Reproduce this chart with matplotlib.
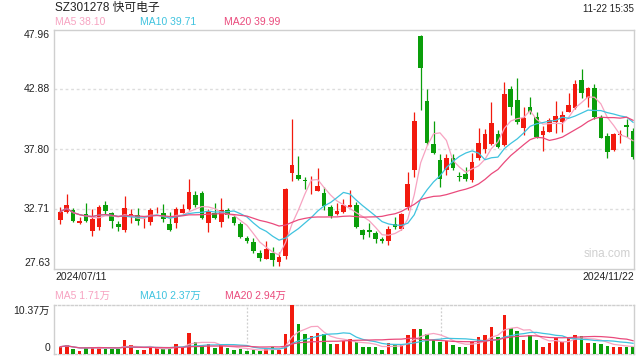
import matplotlib
matplotlib.use("Agg")
import matplotlib.pyplot as plt
import numpy as np
import pandas as pd

plt.rcParams["font.family"] = ["Liberation Sans", "Noto Sans CJK SC", "DejaVu Sans"]

# ---- data ----
title = "SZ301278 快可电子"
stamp = "11-22 15:35"
date_labels = ["2024/07/11", "2024/11/22"]
price_ticks = [27.63, 32.71, 37.80, 42.88, 47.96]
vol_top = 10.37  # 万
price_ma_text = ["MA5 38.10", "MA10 39.71", "MA20 39.99"]
vol_ma_text = ["MA5 1.71万", "MA10 2.37万", "MA20 2.94万"]

opens = [31.76, 32.46, 32.61, 31.48, 32.24, 30.85, 31.19, 33.03, 32.33, 31.42,
         30.91, 32.21, 32.16, 31.48, 31.61, 32.67, 32.33, 31.42, 31.48, 32.38,
         32.69, 33.89, 34.03, 31.53, 32.33, 31.61, 32.61, 32.04, 31.42, 30.25,
         29.90, 28.94, 28.45, 28.99, 28.20, 28.71, 35.78, 35.59, 35.16, 34.54,
         34.25, 34.08, 32.84, 32.24, 32.46, 32.89, 33.03, 30.91, 30.91, 30.62,
         30.14, 29.94, 31.39, 30.99, 32.89, 36.01, 47.40, 41.89, 38.18, 36.86,
         35.99, 37.05, 35.50, 35.67, 35.16, 37.05, 37.82, 38.20, 39.04, 38.12,
         42.87, 41.99, 39.60, 41.39, 40.49, 38.99, 39.27, 40.12, 40.12, 40.97,
         41.26, 43.67, 42.17, 43.02, 40.55, 38.91, 37.69, 38.99, 39.84, 39.31]
closes = [32.46, 33.03, 31.67, 31.67, 31.67, 31.82, 32.89, 32.52, 31.67, 31.19,
          32.75, 32.27, 31.67, 31.53, 32.61, 32.72, 31.82, 30.91, 32.67, 32.69,
          34.14, 33.03, 31.95, 32.52, 31.95, 32.61, 32.18, 31.48, 30.34, 29.94,
          29.08, 28.56, 29.26, 28.35, 28.63, 34.37, 36.43, 35.25, 35.08, 34.59,
          34.65, 32.97, 32.12, 32.52, 33.03, 33.03, 31.19, 30.48, 30.76, 30.14,
          29.94, 30.99, 31.19, 32.27, 34.82, 40.21, 44.65, 38.29, 37.46, 35.24,
          36.99, 36.20, 35.44, 35.22, 36.67, 38.27, 39.04, 39.99, 37.99, 42.46,
          41.39, 40.06, 40.45, 40.91, 38.81, 39.33, 40.27, 40.61, 40.69, 41.54,
          43.33, 42.54, 43.02, 40.55, 38.76, 37.58, 39.05, 39.05, 39.65, 37.15]
highs = [32.89, 33.97, 32.78, 32.04, 33.23, 32.67, 33.01, 33.40, 32.46, 31.70,
         33.80, 32.67, 32.75, 32.04, 32.75, 32.89, 33.12, 32.46, 32.84, 33.09,
         35.25, 34.23, 34.25, 32.67, 33.23, 33.60, 32.75, 32.18, 31.61, 30.42,
         30.25, 29.20, 29.97, 29.42, 29.05, 34.46, 40.31, 37.23, 35.44, 35.50,
         36.21, 34.59, 33.03, 33.23, 33.55, 34.31, 33.32, 30.99, 31.48, 30.85,
         30.34, 31.21, 32.04, 32.38, 35.87, 40.97, 47.49, 42.90, 40.21, 37.37,
         37.39, 37.37, 35.87, 36.24, 37.49, 39.60, 39.53, 41.81, 39.40, 43.51,
         43.15, 43.80, 41.35, 42.26, 40.97, 39.76, 40.44, 41.84, 41.03, 42.60,
         43.67, 44.61, 43.11, 43.31, 40.69, 39.12, 39.12, 39.38, 40.32, 39.59]
lows = [31.42, 32.38, 31.61, 31.42, 31.61, 30.40, 30.91, 32.27, 31.10, 30.80,
        30.76, 31.48, 31.31, 31.05, 31.31, 32.33, 31.61, 30.82, 31.05, 32.33,
        32.61, 32.89, 31.82, 30.76, 31.82, 31.14, 31.95, 31.33, 30.21, 29.77,
        28.94, 28.31, 28.40, 27.84, 27.84, 28.42, 35.10, 35.16, 34.37, 33.97,
        34.20, 32.61, 31.90, 32.18, 32.38, 32.84, 31.10, 30.11, 30.34, 29.80,
        29.80, 29.63, 30.99, 30.91, 32.61, 35.44, 41.11, 38.15, 37.35, 34.58,
        35.59, 35.97, 35.10, 35.10, 35.02, 36.90, 37.43, 38.12, 37.90, 38.01,
        40.70, 39.95, 38.97, 40.77, 38.75, 37.65, 39.25, 39.13, 39.20, 40.92,
        41.18, 42.11, 41.39, 40.36, 38.69, 37.07, 37.64, 38.27, 38.82, 36.95]
# volume in 万 (10k shares)
volumes = [1.54, 1.90, 1.06, 0.70, 1.27, 1.54, 1.54, 1.12, 1.12, 1.06,
           2.96, 1.90, 0.85, 0.85, 1.42, 1.21, 1.12, 1.12, 2.12, 1.42,
           4.51, 2.54, 1.69, 2.12, 1.27, 1.90, 1.27, 0.91, 1.12, 0.70,
           0.85, 0.63, 0.99, 1.54, 0.91, 4.23, 10.37, 6.35, 4.23, 3.81,
           4.51, 4.17, 2.12, 2.12, 2.81, 3.17, 2.48, 1.54, 1.54, 1.54,
           0.85, 2.39, 1.90, 1.90, 4.02, 5.29, 5.29, 4.17, 2.96, 2.60,
           2.75, 1.90, 1.54, 1.54, 2.75, 3.66, 4.02, 5.78, 3.66, 8.32,
           5.44, 4.93, 2.96, 4.02, 2.96, 1.54, 2.39, 3.32, 2.60, 3.32,
           4.02, 3.81, 2.39, 2.39, 2.12, 1.76, 1.54, 1.54, 1.54, 1.54]

# ---- styles ----
up_color = "#f21a0e"
down_color = "#0a9e0a"
ma_colors = ["#f7a3c1", "#3fc3df", "#ea4a7c"]
ma_windows = [5, 10, 20]
border = "#cfcfcf"
grid_c = "#dddddd"

df = pd.DataFrame({"open": opens, "high": highs, "low": lows, "close": closes, "vol": volumes})
x = np.arange(len(df))
up = df["close"] >= df["open"]
colors = np.where(up, up_color, down_color)

fig = plt.figure(figsize=(6.4, 3.6), dpi=100)
ax = fig.add_axes([54 / 640, 1 - 268.5 / 360, 580 / 640, 239 / 360])
axv = fig.add_axes([54 / 640, 1 - 354 / 360, 580 / 640, 49 / 360])

xlim = (-0.98, 89.15)

# ---- candles ----
ax.vlines(x, df["low"], df["high"], colors=colors, linewidth=0.9, zorder=3)
body_lo = np.minimum(df["open"], df["close"])
body_h = np.maximum(np.abs(df["close"] - df["open"]), 0.06)
ax.bar(x, body_h, bottom=body_lo, width=0.72, color=colors, linewidth=0, zorder=4)

for w, c in zip(ma_windows, ma_colors):
    ax.plot(x, df["close"].rolling(w, min_periods=1).mean(), color=c, linewidth=0.9, zorder=5)

ax.set_xlim(*xlim)
ax.set_ylim(price_ticks[0], price_ticks[-1])
for p in price_ticks[1:-1]:
    ax.axhline(p, color=grid_c, linestyle=(0, (2, 2)), linewidth=1.0, zorder=1)
ax.set_xticks([])
ax.set_yticks([])
for s in ax.spines.values():
    s.set_color(border)
    s.set_linewidth(1.0)

# price labels (top/bottom nudged inside like the reference)
label_y = [263, 209, 150, 89, 35]
for p, yy in zip(price_ticks, label_y):
    fig.text(50 / 640, 1 - yy / 360, f"{p:.2f}", ha="right", va="center", fontsize=7.5, color="#222222")

ax.text(0.995, 0.035, "sina.com", transform=ax.transAxes, ha="right", va="bottom",
        fontsize=8.5, color="#d0d0d0")

# ---- volume ----
axv.bar(x, df["vol"], width=0.55, color=colors, linewidth=0, zorder=3)
for w, c in zip(ma_windows, ma_colors):
    axv.plot(x, df["vol"].rolling(w, min_periods=1).mean(), color=c, linewidth=0.9, zorder=4)
axv.set_xlim(*xlim)
axv.set_ylim(0, vol_top)
axv.set_xticks([])
axv.set_yticks([])
for k in (1, 2):
    axv.axvline(xlim[0] + (xlim[1] - xlim[0]) * k / 3, color=border, linestyle=(0, (1.5, 1.5)), linewidth=0.9, zorder=1)
for side in ("top", "bottom"):
    axv.spines[side].set_linestyle((0, (1.5, 1.5)))
for s in axv.spines.values():
    s.set_color(border)
    s.set_linewidth(1.0)

fig.text(50 / 640, 1 - 311 / 360, f"{vol_top:.2f}万", ha="right", va="center", fontsize=7.5, color="#222222")
fig.text(50 / 640, 1 - 348 / 360, "0", ha="right", va="center", fontsize=7.5, color="#222222")

# ---- header texts ----
fig.text(55 / 640, 1 - 8 / 360, title, ha="left", va="center", fontsize=8.5, color="#222222")
fig.text(634 / 640, 1 - 9 / 360, stamp, ha="right", va="center", fontsize=7, color="#222222")
for t, c, xx in zip(price_ma_text, ma_colors, [55, 140, 224]):
    fig.text(xx / 640, 1 - 22 / 360, t, ha="left", va="center", fontsize=7.5, color=c)
for t, c, xx in zip(vol_ma_text, ma_colors, [55, 140, 225]):
    fig.text(xx / 640, 1 - 296 / 360, t, ha="left", va="center", fontsize=7.5, color=c)

fig.text(55 / 640, 1 - 277 / 360, date_labels[0], ha="left", va="center", fontsize=7.5, color="#222222")
fig.text(634 / 640, 1 - 277 / 360, date_labels[1], ha="right", va="center", fontsize=7.5, color="#222222")

fig.savefig("out.png", dpi=100, facecolor="white")
